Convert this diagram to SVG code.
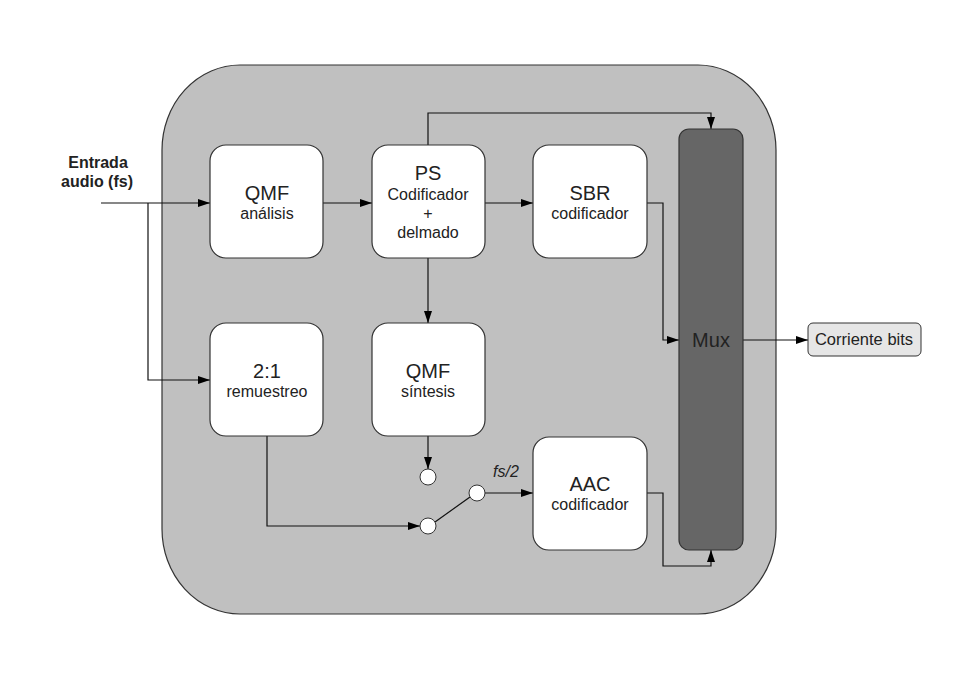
<svg xmlns="http://www.w3.org/2000/svg" width="960" height="679" viewBox="0 0 960 679">
<defs>
<marker id="arr" markerUnits="userSpaceOnUse" markerWidth="13" markerHeight="9" refX="12" refY="4" orient="auto">
<path d="M0,0 L12,4 L0,8 z" fill="#000"/>
</marker>
<style>
.box{fill:#fff;stroke:#333;stroke-width:1.2}
.t{font-family:"Liberation Sans",Arial,sans-serif;fill:#222;text-anchor:middle}
.big{font-size:20px}
.sm{font-size:16px}
.ln{fill:none;stroke:#111;stroke-width:1.2}
.ar{marker-end:url(#arr)}
.c{fill:#fff;stroke:#333;stroke-width:1}
</style>
</defs>
<rect width="960" height="679" fill="#fff"/>
<g id="outer"><rect x="162" y="65" width="614" height="549" rx="78" ry="85" fill="#c0c0c0" stroke="#333" stroke-width="1.2"/></g>
<g id="entrada">
<text class="t" x="98" y="168" style="font-size:16px;font-weight:bold">Entrada</text>
<text class="t" x="97" y="187" style="font-size:16px;font-weight:bold">audio (fs)</text>
</g>
<g id="connectors">
<path class="ln ar" d="M101,203 H210"/>
<path class="ln ar" d="M148,203 V380 H210"/>
<path class="ln ar" d="M323,203 H372"/>
<path class="ln ar" d="M485,203 H533"/>
<path class="ln ar" d="M428,145 V113 H711 V129"/>
<path class="ln ar" d="M428,258 V323"/>
<path class="ln ar" d="M647,203 H663 V340 H679"/>
<path class="ln ar" d="M743,340 H808"/>
<path class="ln ar" d="M428,436 V469"/>
<path class="ln ar" d="M267,436 V526 H420"/>
<path class="ln" d="M435,522 L470,497"/>
<path class="ln ar" d="M485,493 H533"/>
<path class="ln ar" d="M647,493 H663 V566 H711 V550"/>
</g>
<g id="qmf-analisis"><rect class="box" x="210" y="145" width="113" height="113" rx="16"/>
<text class="t big" x="267" y="200">QMF</text><text class="t sm" x="267" y="219">análisis</text></g>
<g id="ps"><rect class="box" x="372" y="145" width="113" height="113" rx="16"/>
<text class="t big" x="428" y="180">PS</text><text class="t sm" x="428" y="200">Codificador</text><text class="t sm" x="428" y="219">+</text><text class="t sm" x="428" y="238">delmado</text></g>
<g id="sbr"><rect class="box" x="533" y="145" width="114" height="113" rx="16"/>
<text class="t big" x="590" y="200">SBR</text><text class="t sm" x="590" y="219">codificador</text></g>
<g id="mux"><rect x="679" y="129" width="64" height="421" rx="10" fill="#666" stroke="#333" stroke-width="1.2"/>
<text class="t big" x="711" y="347">Mux</text></g>
<g id="remuestreo"><rect class="box" x="210" y="323" width="113" height="113" rx="16"/>
<text class="t big" x="267" y="378">2:1</text><text class="t sm" x="267" y="397">remuestreo</text></g>
<g id="qmf-sintesis"><rect class="box" x="372" y="323" width="113" height="113" rx="16"/>
<text class="t big" x="428" y="378">QMF</text><text class="t sm" x="428" y="397">síntesis</text></g>
<g id="aac"><rect class="box" x="533" y="437" width="114" height="113" rx="16"/>
<text class="t big" x="590" y="491">AAC</text><text class="t sm" x="590" y="510">codificador</text></g>
<g id="switch">
<circle class="c" cx="428" cy="477" r="8"/>
<circle class="c" cx="428" cy="526" r="8"/>
<circle class="c" cx="477" cy="493" r="8"/>
<text class="t sm" x="506" y="477" style="font-style:italic">fs/2</text>
</g>
<g id="corriente"><rect x="808" y="323" width="113" height="33" rx="5" fill="#e6e6e6" stroke="#333" stroke-width="1"/>
<text class="t" x="864" y="345" style="font-size:16.5px">Corriente bits</text></g>
</svg>
